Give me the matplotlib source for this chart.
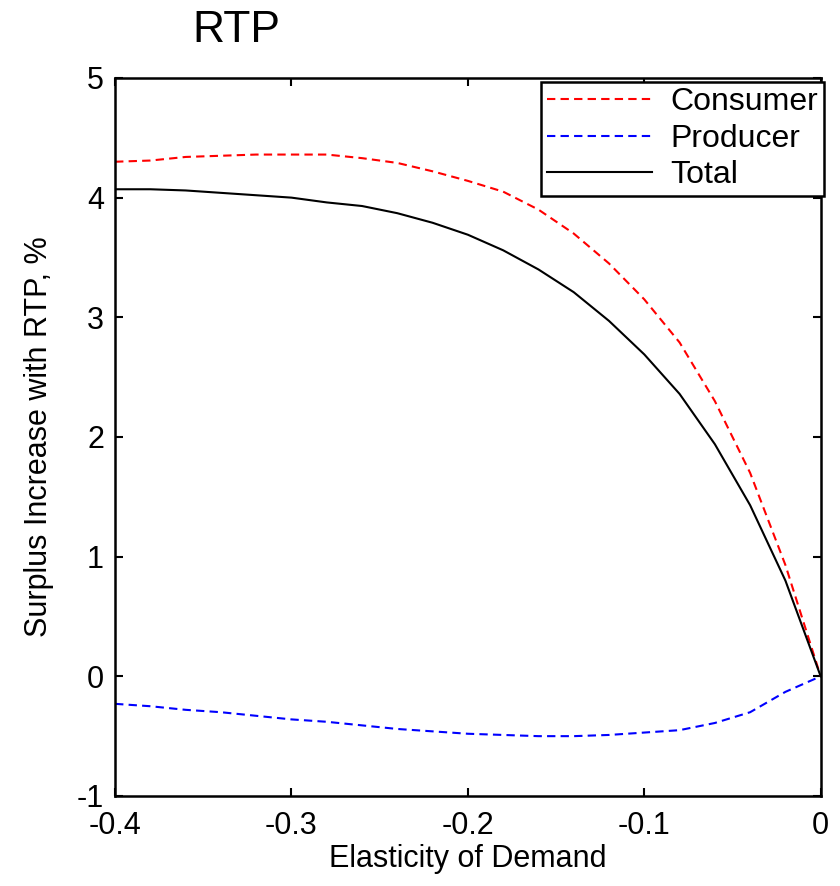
import matplotlib
matplotlib.use("Agg")
import matplotlib.pyplot as plt

plt.rcParams['font.family'] = ['Liberation Sans', 'DejaVu Sans']
plt.rcParams['axes.unicode_minus'] = False

# values
elasticity = [-0.40, -0.38, -0.36, -0.34, -0.32, -0.30, -0.28, -0.26, -0.24, -0.22, -0.20,
              -0.18, -0.16, -0.14, -0.12, -0.10, -0.08, -0.06, -0.04, -0.02, 0.0]
consumer = [4.30, 4.31, 4.34, 4.35, 4.36, 4.36, 4.36, 4.33, 4.29, 4.22, 4.14,
            4.05, 3.90, 3.70, 3.45, 3.15, 2.79, 2.30, 1.70, 0.93, 0.0]
producer = [-0.23, -0.25, -0.28, -0.30, -0.33, -0.36, -0.38, -0.41, -0.44, -0.46, -0.48,
            -0.49, -0.50, -0.50, -0.49, -0.47, -0.45, -0.39, -0.30, -0.13, 0.0]
total = [4.07, 4.07, 4.06, 4.04, 4.02, 4.00, 3.96, 3.93, 3.87, 3.79, 3.69,
         3.56, 3.40, 3.21, 2.97, 2.69, 2.36, 1.94, 1.43, 0.80, 0.0]

xticks = [-0.4, -0.3, -0.2, -0.1, 0]
xticklabels = ["-0.4", "-0.3", "-0.2", "-0.1", "0"]
yticks = [-1, 0, 1, 2, 3, 4, 5]

fig = plt.figure(figsize=(8.4, 8.86), dpi=100)
ax = fig.add_axes([0.137, 0.1016, 0.84, 0.8104])

dash = (0, (4, 2.5))
ax.plot(elasticity, consumer, color='red', linestyle=dash, lw=1.5, label="Consumer")
ax.plot(elasticity, producer, color='blue', linestyle=dash, lw=1.5, label="Producer")
ax.plot(elasticity, total, color='black', lw=1.5, label="Total")

ax.set_xlim(-0.4, 0)
ax.set_ylim(-1, 5)
ax.set_xticks(xticks)
ax.set_xticklabels(xticklabels)
ax.set_yticks(yticks)
ax.tick_params(direction='in', top=True, right=True, length=6, width=1.5,
               labelsize=22, pad=8, colors='black')
ax.tick_params(axis='x', pad=11)
for s in ax.spines.values():
    s.set_linewidth(1.8)

ax.set_xlabel("Elasticity of Demand", fontsize=22, labelpad=2)
ax.set_ylabel("Surplus Increase with RTP, %", fontsize=22, labelpad=16)

leg = ax.legend(loc='upper right', bbox_to_anchor=(1.004, 0.995), fontsize=23,
                fancybox=False, framealpha=1, edgecolor='black',
                handlelength=3.3, handletextpad=0.55, labelspacing=0.2,
                borderpad=0.18, borderaxespad=0)
leg.get_frame().set_linewidth(1.8)

fig.text(0.281, 0.966, "RTP", fontsize=32, ha='center', va='center')

fig.savefig("out.png", dpi=100, facecolor='white')
